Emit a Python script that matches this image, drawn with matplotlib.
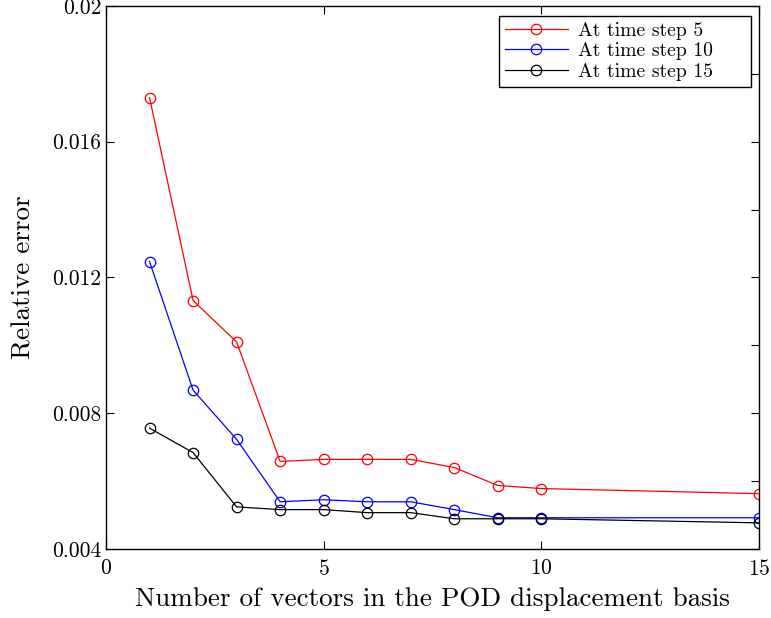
import matplotlib
matplotlib.use("Agg")
import matplotlib.pyplot as plt
from matplotlib.ticker import MultipleLocator

plt.rcParams['font.family'] = ['cmr10', 'DejaVu Serif']
plt.rcParams['axes.formatter.use_mathtext'] = True
plt.rcParams['mathtext.fontset'] = 'cm'

n_vectors = [1, 2, 3, 4, 5, 6, 7, 8, 9, 10, 15]
err_step5 = [0.0173, 0.01132, 0.0101, 0.00658, 0.00664, 0.00664, 0.00664,
             0.0064, 0.00587, 0.00578, 0.00563]
err_step10 = [0.01247, 0.00868, 0.00723, 0.00539, 0.00545, 0.00539, 0.00539,
              0.00516, 0.00492, 0.00492, 0.00492]
err_step15 = [0.00756, 0.00684, 0.00524, 0.00516, 0.00516, 0.00507, 0.00507,
              0.00489, 0.00489, 0.00489, 0.00477]
labels = ['At time step 5', 'At time step 10', 'At time step 15']
colors = ['#ff0000', '#0000ff', '#000000']

fig = plt.figure(figsize=(7.71, 6.18), dpi=100)
ax = fig.add_axes([0.1375, 0.1117, 0.8469, 0.8786])

for ys, lab, col in zip([err_step5, err_step10, err_step15], labels, colors):
    ax.plot(n_vectors, ys, color=col, linewidth=0.9, marker='o',
            markersize=7.5, markerfacecolor='none', markeredgecolor=col,
            markeredgewidth=0.9, label=lab)

ax.set_xlim(0, 15)
ax.set_ylim(0.004, 0.02)
ax.set_xticks([0, 5, 10, 15])
ax.set_yticks([0.004, 0.008, 0.012, 0.016, 0.02])
ax.set_yticklabels(['0.004', '0.008', '0.012', '0.016', '0.02'])
ax.yaxis.set_minor_locator(MultipleLocator(0.002))
ax.tick_params(which='major', direction='in', top=True, right=True,
               length=6, width=0.8, labelsize=15.5)
ax.tick_params(axis='x', which='major', pad=7)
ax.tick_params(which='minor', direction='in', left=False, right=True,
               length=6, width=0.8)
for s in ax.spines.values():
    s.set_linewidth(1.0)

ax.set_xlabel('Number of vectors in the POD displacement basis', fontsize=19.5,
              labelpad=6)
ax.set_ylabel('Relative error', fontsize=19.5, labelpad=12)

leg = ax.legend(loc='upper left', bbox_to_anchor=(0.6018, 0.858, 0.386, 0.1236),
                mode='expand', fontsize=14.2, fancybox=False,
                edgecolor='black', framealpha=1, borderpad=0.3,
                labelspacing=0.12, handlelength=3.2, handletextpad=0.5,
                borderaxespad=0.0)
leg.get_frame().set_linewidth(1.0)

fig.savefig('out.png', dpi=100)
